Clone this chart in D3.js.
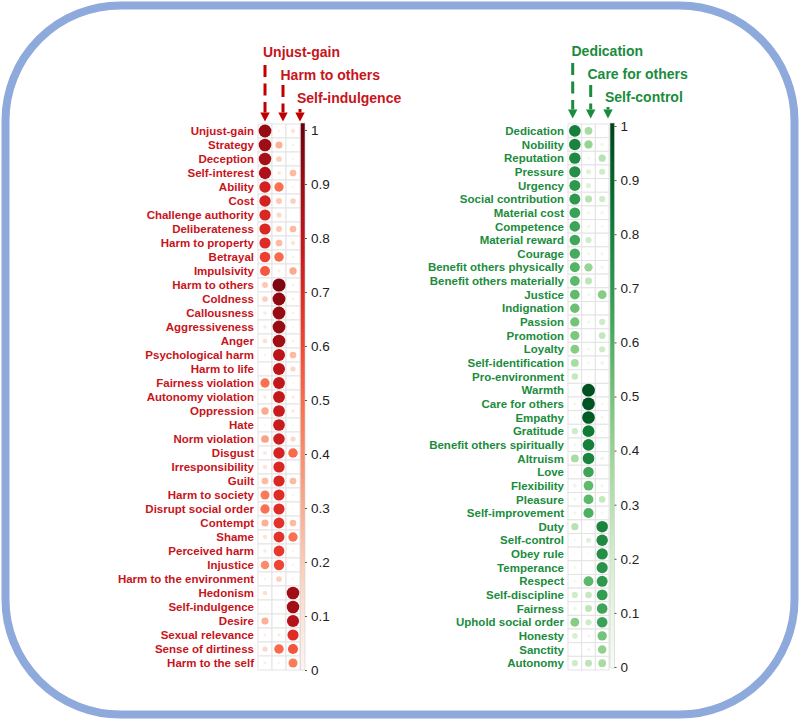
<!DOCTYPE html>
<html>
<head>
<meta charset="utf-8">
<script src="https://cdn.jsdelivr.net/npm/d3@7"></script>
<style>
  html, body { margin: 0; padding: 0; background: #fff; }
  svg { display: block; font-family: "Liberation Sans", Arial, sans-serif; }
</style>
</head>
<body>
<svg id="chart" width="802" height="724"></svg>
<script>
// ---------- DATA ----------
const leftColumns = ["Unjust-gain", "Harm to others", "Self-indulgence"];
const leftLabels = [
  "Unjust-gain","Strategy","Deception","Self-interest","Ability","Cost","Challenge authority",
  "Deliberateness","Harm to property","Betrayal","Impulsivity","Harm to others","Coldness",
  "Callousness","Aggressiveness","Anger","Psychological harm","Harm to life","Fairness violation",
  "Autonomy violation","Oppression","Hate","Norm violation","Disgust","Irresponsibility","Guilt",
  "Harm to society","Disrupt social order","Contempt","Shame","Perceived harm","Injustice",
  "Harm to the environment","Hedonism","Self-indulgence","Desire","Sexual relevance",
  "Sense of dirtiness","Harm to the self"
];
const leftUnjustGain = [0.90,0.88,0.86,0.84,0.72,0.72,0.70,0.70,0.68,0.62,0.55,0.20,0.18,
  0.07,0.07,0.12,0.03,0.00,0.48,0.07,0.30,0.02,0.33,0.08,0.10,0.25,0.45,0.48,0.28,0.10,0.07,0.40,
  0.03,0.12,0.01,0.28,0.05,0.15,0.05];
const leftHarmToOthers = [0.03,0.28,0.18,0.08,0.48,0.20,0.15,0.20,0.25,0.50,0.06,0.95,0.92,
  0.90,0.90,0.88,0.80,0.80,0.78,0.78,0.76,0.76,0.74,0.72,0.70,0.70,0.68,0.68,0.66,0.66,0.64,0.60,
  0.18,0.00,0.01,0.01,0.06,0.50,0.03];
const leftSelfIndulgence = [0.10,0.04,0.03,0.25,0.03,0.18,0.00,0.25,0.10,0.04,0.30,0.04,0.04,
  0.04,0.02,0.04,0.25,0.15,0.02,0.06,0.07,0.02,0.15,0.50,0.00,0.25,0.03,0.02,0.25,0.48,0.03,0.03,
  0.03,0.88,0.87,0.82,0.68,0.56,0.45];

const rightColumns = ["Dedication", "Care for others", "Self-control"];
const rightLabels = [
  "Dedication","Nobility","Reputation","Pressure","Urgency","Social contribution","Material cost",
  "Competence","Material reward","Courage","Benefit others physically","Benefit others materially",
  "Justice","Indignation","Passion","Promotion","Loyalty","Self-identification","Pro-environment",
  "Warmth","Care for others","Empathy","Gratitude","Benefit others spiritually","Altruism","Love",
  "Flexibility","Pleasure","Self-improvement","Duty","Self-control","Obey rule","Temperance",
  "Respect","Self-discipline","Fairness","Uphold social order","Honesty","Sanctity","Autonomy"
];
const rightDedication = [0.80,0.78,0.76,0.74,0.70,0.70,0.66,0.65,0.64,0.62,0.58,0.56,0.55,0.52,
  0.50,0.48,0.45,0.35,0.25,0.03,0.06,0.03,0.22,0.06,0.35,0.03,0.08,0.06,0.06,0.30,0.04,0.02,0.05,
  0.04,0.22,0.08,0.45,0.18,0.01,0.22];
const rightCareForOthers = [0.35,0.40,0.05,0.15,0.15,0.30,0.06,0.07,0.22,0.06,0.40,0.28,0.06,
  0.01,0.06,0.01,0.06,0.05,0.03,0.96,0.95,0.93,0.82,0.80,0.78,0.65,0.55,0.56,0.60,0.02,0.15,0.02,
  0.02,0.56,0.25,0.28,0.22,0.06,0.06,0.28];
const rightSelfControl = [0.02,0.07,0.30,0.22,0.01,0.22,0.07,0.05,0.01,0.06,0.06,0.01,0.45,0.00,
  0.22,0.26,0.22,0.08,0.00,0.00,0.05,0.05,0.03,0.00,0.08,0.02,0.06,0.25,0.05,0.78,0.76,0.74,0.72,
  0.70,0.68,0.65,0.66,0.50,0.42,0.35];

const colorbarTicks = [0, 0.1, 0.2, 0.3, 0.4, 0.5, 0.6, 0.7, 0.8, 0.9, 1];
const colorbarTickLabels = ["0", "0.1", "0.2", "0.3", "0.4", "0.5", "0.6", "0.7", "0.8", "0.9", "1"];

// ---------- DRAW ----------
const svg = d3.select("#chart");
const defs = svg.append("defs");

// rounded frame
svg.append("rect")
  .attr("x", 5.5).attr("y", 5.5).attr("width", 789).attr("height", 709)
  .attr("rx", 115).attr("ry", 115)
  .attr("fill", "#fff").attr("stroke", "#8EA9DB").attr("stroke-width", 8);

function panel(cfg) {
  const g = svg.append("g");
  const rows = cfg.labels;
  const y = d3.scaleBand().domain(rows).range([cfg.top, cfg.bottom]);
  const x = d3.scaleBand().domain(cfg.columns).range([cfg.left, cfg.right]);
  const color = d3.scaleSequential(cfg.interp).domain([0, 1]);
  const r = d3.scaleSqrt().domain([0, 1]).range([0, x.bandwidth() * 0.48]);

  const cells = [];
  rows.forEach((lab, i) => {
    cfg.columns.forEach((c, j) => cells.push({ row: lab, col: c, v: cfg.series[j][i] }));
  });

  // grid cells
  g.append("g").selectAll("rect").data(cells).join("rect")
    .attr("x", d => x(d.col)).attr("y", d => y(d.row))
    .attr("width", x.bandwidth()).attr("height", y.bandwidth())
    .attr("fill", "#fff").attr("stroke", "#E3E3E3").attr("stroke-width", 1);

  // circles
  g.append("g").selectAll("circle").data(cells.filter(d => d.v > 0)).join("circle")
    .attr("cx", d => x(d.col) + x.bandwidth() / 2)
    .attr("cy", d => y(d.row) + y.bandwidth() / 2)
    .attr("r", d => r(d.v))
    .attr("fill", d => color(d.v));

  // row labels
  g.append("g").selectAll("text").data(rows).join("text")
    .attr("x", cfg.left - 4)
    .attr("y", d => y(d) + y.bandwidth() / 2)
    .attr("dy", "0.36em")
    .attr("text-anchor", "end")
    .attr("font-size", "11.5px").attr("font-weight", "bold")
    .attr("fill", cfg.textColor)
    .text(d => d);

  // colorbar
  const gradId = cfg.id + "-grad";
  const grad = defs.append("linearGradient").attr("id", gradId)
    .attr("x1", 0).attr("y1", 1).attr("x2", 0).attr("y2", 0);
  d3.range(0, 1.0001, 0.05).forEach(t => {
    grad.append("stop").attr("offset", t).attr("stop-color", color(t));
  });
  g.append("rect")
    .attr("x", cfg.cbX).attr("y", cfg.cbTop)
    .attr("width", 4.5).attr("height", cfg.cbBottom - cfg.cbTop)
    .attr("fill", `url(#${gradId})`)
    .attr("stroke", "#CFCFCF").attr("stroke-width", 0.6);

  const cbScale = d3.scaleLinear().domain([0, 1]).range(cfg.cbRange);
  const axis = d3.axisRight(cbScale)
    .tickValues(colorbarTicks)
    .tickFormat((d, i) => colorbarTickLabels[i])
    .tickSize(2).tickPadding(4);
  const ax = g.append("g")
    .attr("transform", `translate(${cfg.cbX + 4.5},0)`)
    .call(axis);
  ax.select(".domain").remove();
  ax.selectAll(".tick line").attr("stroke", "#555");
  ax.selectAll(".tick text")
    .attr("font-size", "13.5px").attr("fill", "#222")
    .attr("font-family", "\"Liberation Sans\", Arial, sans-serif");

  // headers and arrows
  cfg.columns.forEach((c, j) => {
    const h = cfg.headers[j];
    g.append("text")
      .attr("x", h.tx).attr("y", h.ty)
      .attr("font-size", "14px").attr("font-weight", "bold")
      .attr("fill", cfg.textColor)
      .text(c);
    const ax0 = h.ax;
    const headBase = cfg.tipY - 9;
    g.append("line")
      .attr("x1", ax0).attr("x2", ax0)
      .attr("y1", h.ay).attr("y2", headBase)
      .attr("stroke", cfg.arrowColor).attr("stroke-width", 3)
      .attr("stroke-dasharray", h.dash);
    g.append("path")
      .attr("d", `M${ax0 - 4.7},${headBase} L${ax0 + 4.7},${headBase} L${ax0},${cfg.tipY} Z`)
      .attr("fill", cfg.arrowColor);
  });
}

panel({
  id: "left",
  labels: leftLabels,
  columns: leftColumns,
  series: [leftUnjustGain, leftHarmToOthers, leftSelfIndulgence],
  left: 258, right: 300, top: 124, bottom: 670,
  interp: d3.interpolateReds,
  textColor: "#C8141B",
  arrowColor: "#C00000",
  cbX: 300.5, cbTop: 123, cbBottom: 670, cbRange: [670, 130],
  tipY: 121.5,
  headers: [
    { tx: 263, ty: 57, ax: 265, ay: 65, dash: "12,6.5" },
    { tx: 280.5, ty: 80, ax: 283, ay: 85, dash: "12,6.5" },
    { tx: 297, ty: 103, ax: 300, ay: 109, dash: "none" }
  ]
});

panel({
  id: "right",
  labels: rightLabels,
  columns: rightColumns,
  series: [rightDedication, rightCareForOthers, rightSelfControl],
  left: 568, right: 609, top: 124, bottom: 670,
  interp: d3.interpolateGreens,
  textColor: "#1B8C3D",
  arrowColor: "#1B8C3D",
  cbX: 610, cbTop: 123, cbBottom: 668, cbRange: [667, 126],
  tipY: 118.5,
  headers: [
    { tx: 571.5, ty: 56, ax: 572.7, ay: 63, dash: "12,6.5" },
    { tx: 587.5, ty: 79, ax: 590.7, ay: 85, dash: "12,6.5" },
    { tx: 605, ty: 102, ax: 608, ay: 107, dash: "none" }
  ]
});
</script>
</body>
</html>
